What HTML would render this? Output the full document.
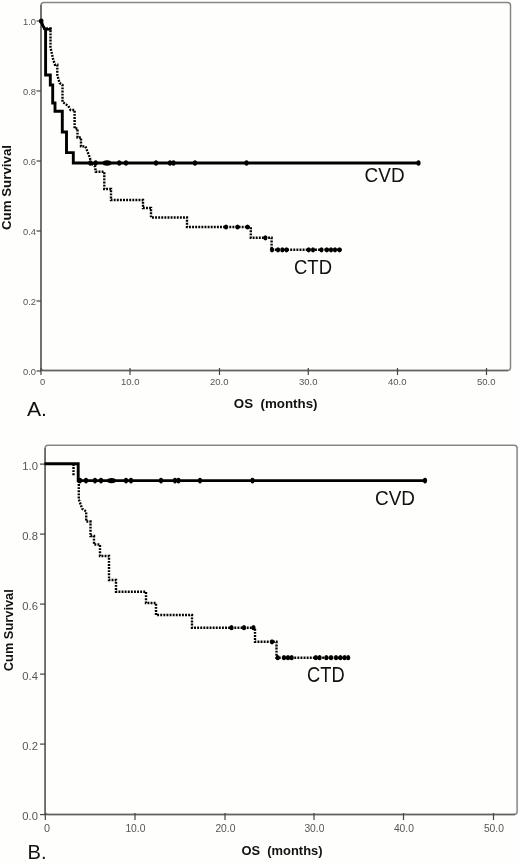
<!DOCTYPE html>
<html><head><meta charset="utf-8">
<style>
html,body{margin:0;padding:0;background:#fefefc;}
body{width:520px;height:862px;overflow:hidden;font-family:"Liberation Sans",sans-serif;}
svg{display:block;position:absolute;left:0;top:0;filter:blur(0.45px);}
text{font-family:"Liberation Sans",sans-serif;}
.tk{font-size:9.3px;fill:#555;}
.ax{font-size:13px;font-weight:bold;fill:#111;}
.lb{font-size:20.5px;fill:#111;}
.ab{font-size:21px;fill:#111;}
.fr{fill:none;stroke:#868686;stroke-width:1.5;}
.axl{fill:none;stroke:#626262;stroke-width:1.5;}
.ti{stroke:#444;stroke-width:1.2;}
.so{fill:none;stroke:#000;stroke-width:2.9;stroke-linejoin:miter;}
.do{fill:none;stroke:#000;stroke-width:2.4;stroke-dasharray:1.9 1.2;}
.mk{fill:#000;}
</style></head>
<body>
<svg width="520" height="862" viewBox="0 0 520 862">
<rect x="0" y="0" width="520" height="862" fill="#fefefc"/>

<!-- ============ CHART A ============ -->
<rect class="fr" x="41" y="2.5" width="469.5" height="368" rx="3" ry="3"/>
<path class="axl" d="M41,5 V370.5 H508"/>
<!-- y ticks -->
<g class="ti">
<line x1="36.5" y1="21" x2="41" y2="21"/><line x1="36.5" y1="91" x2="41" y2="91"/>
<line x1="36.5" y1="161" x2="41" y2="161"/><line x1="36.5" y1="231" x2="41" y2="231"/>
<line x1="36.5" y1="301" x2="41" y2="301"/><line x1="36.5" y1="371" x2="41" y2="371"/>
<line x1="41" y1="368" x2="41" y2="375"/><line x1="130" y1="368" x2="130" y2="375"/>
<line x1="219.5" y1="368" x2="219.5" y2="375"/><line x1="308.3" y1="368" x2="308.3" y2="375"/>
<line x1="397.5" y1="368" x2="397.5" y2="375"/><line x1="486.5" y1="368" x2="486.5" y2="375"/>
</g>
<g class="tk">
<text x="23" y="25.2" textLength="13" lengthAdjust="spacingAndGlyphs">1.0</text>
<text x="23" y="95.2" textLength="13" lengthAdjust="spacingAndGlyphs">0.8</text>
<text x="23" y="165.2" textLength="13" lengthAdjust="spacingAndGlyphs">0.6</text>
<text x="23" y="235.2" textLength="13" lengthAdjust="spacingAndGlyphs">0.4</text>
<text x="23" y="305.2" textLength="13" lengthAdjust="spacingAndGlyphs">0.2</text>
<text x="23" y="375.2" textLength="13" lengthAdjust="spacingAndGlyphs">0.0</text>
<text x="40" y="385">0</text>
<text x="121" y="385" textLength="18.5" lengthAdjust="spacingAndGlyphs">10.0</text>
<text x="210" y="385" textLength="18.5" lengthAdjust="spacingAndGlyphs">20.0</text>
<text x="299" y="385" textLength="18.5" lengthAdjust="spacingAndGlyphs">30.0</text>
<text x="388" y="385" textLength="18.5" lengthAdjust="spacingAndGlyphs">40.0</text>
<text x="477" y="385" textLength="18.5" lengthAdjust="spacingAndGlyphs">50.0</text>
</g>
<text class="ax" transform="translate(11,230) rotate(-90)" textLength="85" lengthAdjust="spacingAndGlyphs">Cum Survival</text>
<text class="ax" x="233.8" y="407.7" textLength="83.7" lengthAdjust="spacingAndGlyphs" xml:space="preserve">OS  (months)</text>
<text class="ab" x="27" y="416" textLength="20" lengthAdjust="spacingAndGlyphs">A.</text>

<!-- dotted CTD A -->
<path class="do" d="M43,28.5 H50.5 V47.5 L53.3,60 L55,64.7 H57.3 V75 L59.6,83 L62.5,84.8 V102 L68.3,106 L70.6,110 H74.6 V128.5 H77.5 V137.5 H81 V146.4 H85.4 L90,158 L90.8,163 L95,166.5 L95.8,171.8 H104.3 V189 H111 V200 H143 V208 H151 V217.5 H187 V227 H250.8 V237.8 H271.6 V249.8 H342"/>
<path d="M45,29.3 H51.5" stroke="#000" stroke-width="2.6" fill="none"/>
<ellipse class="mk" cx="41.2" cy="21" rx="2.3" ry="2.6"/>
<!-- solid CVD A -->
<path class="so" d="M41,20.5 L43,26 L45.6,30 V75 H50.3 V85 H52.7 V103 H55 V111.2 H62.3 V132 H66.5 V152.6 H73.3 V163 H419"/>
<g class="mk">
<ellipse cx="90.3" cy="163" rx="2.1" ry="2.8"/><ellipse cx="95.7" cy="163" rx="2.1" ry="2.8"/>
<ellipse cx="107" cy="163" rx="4.5" ry="2.7"/>
<ellipse cx="119.2" cy="163" rx="2.1" ry="2.8"/><ellipse cx="126" cy="163" rx="2.1" ry="2.8"/>
<ellipse cx="156" cy="163" rx="2.1" ry="2.8"/><ellipse cx="170" cy="163" rx="2.1" ry="2.8"/><ellipse cx="173.5" cy="163" rx="2.1" ry="2.8"/>
<ellipse cx="195" cy="163" rx="2.1" ry="2.8"/><ellipse cx="246.5" cy="163" rx="2.1" ry="2.8"/><ellipse cx="418.5" cy="163" rx="2.1" ry="2.8"/>
<ellipse cx="226" cy="227" rx="2.1" ry="2.6"/><ellipse cx="237.5" cy="227" rx="2.1" ry="2.6"/><ellipse cx="247.5" cy="227" rx="2.1" ry="2.6"/>
<ellipse cx="265.4" cy="237.8" rx="2.1" ry="2.6"/>
<ellipse cx="272" cy="249.8" rx="2.1" ry="2.6"/><ellipse cx="278" cy="249.8" rx="2.1" ry="2.6"/><ellipse cx="282.3" cy="249.8" rx="2.1" ry="2.6"/><ellipse cx="286.5" cy="249.8" rx="2.1" ry="2.6"/>
<ellipse cx="308.7" cy="249.8" rx="2.1" ry="2.6"/><ellipse cx="313" cy="249.8" rx="2.1" ry="2.6"/><ellipse cx="321.5" cy="249.8" rx="2.1" ry="2.6"/>
<ellipse cx="326.8" cy="249.8" rx="2.1" ry="2.6"/><ellipse cx="331" cy="249.8" rx="2.1" ry="2.6"/><ellipse cx="335" cy="249.8" rx="2.1" ry="2.6"/><ellipse cx="339.5" cy="249.8" rx="2.1" ry="2.6"/>
</g>
<text class="lb" x="364.6" y="182" textLength="40" lengthAdjust="spacingAndGlyphs">CVD</text>
<text class="lb" x="294" y="274" textLength="38" lengthAdjust="spacingAndGlyphs">CTD</text>

<!-- ============ CHART B ============ -->
<rect class="fr" x="45.1" y="445.3" width="472" height="369.3" rx="3" ry="3"/>
<path class="axl" d="M45.1,448 V814.6 H515"/>
<g class="ti">
<line x1="40" y1="464.1" x2="45.1" y2="464.1"/><line x1="40" y1="534.1" x2="45.1" y2="534.1"/>
<line x1="40" y1="604.1" x2="45.1" y2="604.1"/><line x1="40" y1="674.1" x2="45.1" y2="674.1"/>
<line x1="40" y1="744.1" x2="45.1" y2="744.1"/><line x1="40" y1="814.6" x2="45.1" y2="814.6"/>
<line x1="45.3" y1="813" x2="45.3" y2="820"/><line x1="135" y1="813" x2="135" y2="820"/>
<line x1="225" y1="813" x2="225" y2="820"/><line x1="314" y1="813" x2="314" y2="820"/>
<line x1="403.5" y1="813" x2="403.5" y2="820"/><line x1="493.5" y1="813" x2="493.5" y2="820"/>
</g>
<g class="tk" style="font-size:10.8px">
<text x="22.3" y="469.9" textLength="15.6" lengthAdjust="spacingAndGlyphs">1.0</text>
<text x="22.3" y="539.9" textLength="15.6" lengthAdjust="spacingAndGlyphs">0.8</text>
<text x="22.3" y="609.9" textLength="15.6" lengthAdjust="spacingAndGlyphs">0.6</text>
<text x="22.3" y="679.9" textLength="15.6" lengthAdjust="spacingAndGlyphs">0.4</text>
<text x="22.3" y="749.9" textLength="15.6" lengthAdjust="spacingAndGlyphs">0.2</text>
<text x="22.3" y="820.4" textLength="15.6" lengthAdjust="spacingAndGlyphs">0.0</text>
<text x="43.9" y="832">0</text>
<text x="125.4" y="831.7" textLength="20" lengthAdjust="spacingAndGlyphs">10.0</text>
<text x="215.4" y="831.7" textLength="20" lengthAdjust="spacingAndGlyphs">20.0</text>
<text x="304.4" y="831.7" textLength="20" lengthAdjust="spacingAndGlyphs">30.0</text>
<text x="393.9" y="831.7" textLength="20" lengthAdjust="spacingAndGlyphs">40.0</text>
<text x="483.9" y="831.7" textLength="20" lengthAdjust="spacingAndGlyphs">50.0</text>
</g>
<text class="ax" transform="translate(12.8,671.2) rotate(-90)" textLength="82" lengthAdjust="spacingAndGlyphs">Cum Survival</text>
<text class="ax" x="241.5" y="855" textLength="81" lengthAdjust="spacingAndGlyphs" xml:space="preserve">OS  (months)</text>
<text class="ab" x="27.5" y="858.5" textLength="19" lengthAdjust="spacingAndGlyphs">B.</text>

<path class="do" d="M73.5,464 V476 M78.8,481 V499.4 L82.2,508.8 L86.2,511.5 V521.5 H90.5 V536 H94 V544.5 H100 V556 H109 V580 H116 V591.7 H146 V603 H156 V615 H192 V627.7 H255 V641.8 H276.5 V657.7 H349"/>
<path class="so" d="M44.5,463.7 H78.2 V480.6 H425"/>
<g class="mk">
<ellipse cx="80" cy="480.6" rx="2.1" ry="2.8"/><ellipse cx="86" cy="480.6" rx="2.1" ry="2.8"/><ellipse cx="95" cy="480.6" rx="2.1" ry="2.8"/><ellipse cx="101" cy="480.6" rx="2.1" ry="2.8"/>
<ellipse cx="111.5" cy="480.6" rx="4.5" ry="2.7"/>
<ellipse cx="126" cy="480.6" rx="2.1" ry="2.8"/><ellipse cx="131" cy="480.6" rx="2.1" ry="2.8"/>
<ellipse cx="161" cy="480.6" rx="2.1" ry="2.8"/><ellipse cx="175" cy="480.6" rx="2.1" ry="2.8"/><ellipse cx="178.5" cy="480.6" rx="2.1" ry="2.8"/>
<ellipse cx="200" cy="480.6" rx="2.1" ry="2.8"/><ellipse cx="252.5" cy="480.6" rx="2.1" ry="2.8"/><ellipse cx="425" cy="480.6" rx="2.1" ry="2.8"/>
<ellipse cx="231.5" cy="627.7" rx="2.1" ry="2.6"/><ellipse cx="244" cy="627.7" rx="2.1" ry="2.6"/><ellipse cx="253.5" cy="627.7" rx="2.1" ry="2.6"/>
<ellipse cx="272" cy="641.8" rx="2.1" ry="2.6"/>
<ellipse cx="277.7" cy="657.7" rx="2.1" ry="2.6"/><ellipse cx="284" cy="657.7" rx="2.1" ry="2.6"/><ellipse cx="288" cy="657.7" rx="2.1" ry="2.6"/><ellipse cx="291.7" cy="657.7" rx="2.1" ry="2.6"/>
<ellipse cx="315.8" cy="657.7" rx="2.1" ry="2.6"/><ellipse cx="319.6" cy="657.7" rx="2.1" ry="2.6"/><ellipse cx="326.3" cy="657.7" rx="2.1" ry="2.6"/>
<ellipse cx="331" cy="657.7" rx="2.1" ry="2.6"/><ellipse cx="336" cy="657.7" rx="2.1" ry="2.6"/><ellipse cx="340.4" cy="657.7" rx="2.1" ry="2.6"/><ellipse cx="344.6" cy="657.7" rx="2.1" ry="2.6"/><ellipse cx="348.2" cy="657.7" rx="2.1" ry="2.6"/>
</g>
<text class="lb" style="font-size:21px" x="375" y="505" textLength="40" lengthAdjust="spacingAndGlyphs">CVD</text>
<text class="lb" style="font-size:21.5px" x="307" y="681.8" textLength="37.6" lengthAdjust="spacingAndGlyphs">CTD</text>
</svg>
</body></html>
